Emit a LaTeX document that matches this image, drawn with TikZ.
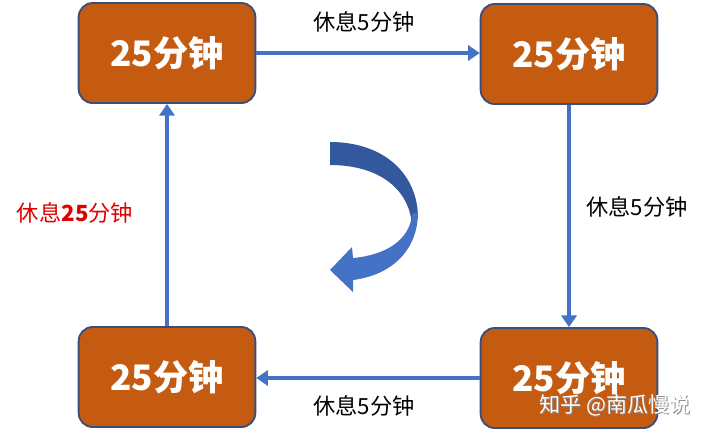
\documentclass[tikz,border=0pt]{standalone}
\usepackage{fontspec}
\newfontfamily\cjk{Noto Sans CJK SC}
\usetikzlibrary{arrows.meta, positioning}
\definecolor{rust}{HTML}{C55A11}
\definecolor{edgeblue}{HTML}{3B4E7A}
\definecolor{flowblue}{HTML}{4472C4}
\definecolor{deepblue}{HTML}{34589E}
\definecolor{alertred}{HTML}{E00000}
\begin{document}
\begin{tikzpicture}[
    x=0.03cm, y=-0.03cm,
    block/.style = {draw=edgeblue, line width=1.6pt, fill=rust, rounded corners=12pt,
                    minimum width=5.3cm, minimum height=3.0cm,
                    font=\cjk\bfseries\fontsize{30}{32}\selectfont, text=white},
    flow/.style  = {-{Triangle[length=10pt, width=13pt]}, line width=3.2pt, color=flowblue},
    lbl/.style   = {font=\cjk\fontsize{19}{21}\selectfont},
  ]
    \useasboundingbox (0,0) rectangle (708,436);

    %% ── Time blocks ─────────────────────────────────────────────────────────
    \node[block] (tl) at (167, 53)  {25分钟};
    \node[block] (tr) at (569, 54)  {25分钟};
    \node[block] (br) at (569, 378) {25分钟};
    \node[block] (bl) at (167, 377) {25分钟};

    %% Clockwise cycle
    \draw[flow] (tl.east)  -- (tr.west |- tl.east);
    \draw[flow] (tr.south) -- (br.north);
    \draw[flow] (br.west)  -- (bl.east |- br.west);
    \draw[flow] (bl.north) -- (tl.south);

    %% ── Labels ──────────────────────────────────────────────────────────────
    \node[lbl] (ltop)   at (364, 22)  {休息5分钟};
    \node[lbl] (lright) at (637, 207) {休息5分钟};
    \node[lbl] (lbot)   at (364, 406) {休息5分钟};
    \node[lbl, text=alertred] (lleft) at (75, 213) {休息\textbf{25}分钟};

    %% ── Curved turn arrow in the middle ─────────────────────────────────────
    \fill[deepblue] (330,142) .. controls (385,142) and (418,175) .. (418,218)
        -- (412,226) .. controls (410,190) and (380,165) .. (330,165) -- cycle;
    \fill[flowblue] (418,212) .. controls (418,250) and (392,275) .. (353,280)
        -- (353,292) -- (330,270) -- (352,247) -- (353,258)
        .. controls (386,255) and (410,240) .. (412,214) -- cycle;

    %% Watermark
    \node[lbl, font=\cjk\fontsize{18}{20}\selectfont, text=black!45] (markshade) at (616, 406) {知乎 @南瓜慢说};
    \node[lbl, font=\cjk\fontsize{18}{20}\selectfont, text=white] (mark) at (615, 405) {知乎 @南瓜慢说};

  \end{tikzpicture}
\end{document}
